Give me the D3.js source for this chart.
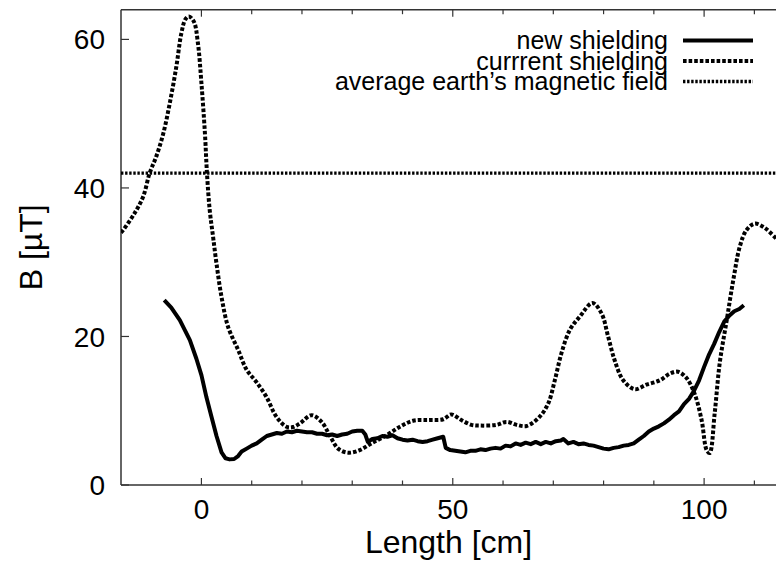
<!DOCTYPE html>
<html>
<head>
<meta charset="utf-8">
<script src="https://cdn.jsdelivr.net/npm/d3@7/dist/d3.min.js"></script>
<style>
  html, body { margin: 0; padding: 0; background: #fff; }
  svg { display: block; }
  text { font-family: "Liberation Sans", Arial, Helvetica, sans-serif; fill: #000; }
</style>
</head>
<body>
<svg id="chart" width="776" height="565"></svg>
<script>
// ---- data ----
const seriesNames = ["new shielding", "currrent shielding", "average earth\u2019s magnetic field"];

const newX = [-7.4,-6,-4.3,-2.3,-1,0,1,2,3,4,4.8,5.6,6.5,7.3,8,9,10,11,12,13,14,15,16,17,18,19,20,21,22,23,24,25,26,27,28,29,30,31,32,32.6,33.1,34,35,36,37,38,39,40,41,42,43,44,45,46,47,48.1,48.6,49.5,50.5,51.5,52.5,53.5,54.5,55.5,56.5,57.5,58.5,59.5,60.5,61.5,62.5,63.5,64.5,65.5,66.5,67.5,68.5,69.5,70.5,71.5,72,73,74,75,76,77,78,79,80,81,82,83,84,85,86,87,88,89,90,91,92,93,94,95,96,97,98,99,100,101,102,103,104,105,106,107,107.9];
const newY = [24.9,23.9,22.2,19.5,17,14.8,11.8,9.2,6.6,4.4,3.6,3.45,3.5,3.9,4.5,4.9,5.3,5.6,6.1,6.6,6.8,7.0,6.9,7.2,7.1,7.3,7.2,7.1,7.1,6.9,6.9,6.7,6.8,6.6,6.8,6.9,7.2,7.3,7.3,6.8,5.8,6.2,6.3,6.6,6.5,6.7,6.3,6.1,6.0,6.1,5.9,5.8,5.9,6.1,6.3,6.5,5.0,4.7,4.6,4.5,4.4,4.6,4.6,4.8,4.7,4.9,5.0,4.9,5.3,5.2,5.6,5.4,5.7,5.5,5.8,5.5,5.8,5.6,5.9,6.0,6.2,5.6,5.8,5.5,5.6,5.4,5.3,5.1,4.9,4.8,5.0,5.1,5.3,5.4,5.6,6.1,6.6,7.2,7.6,7.9,8.3,8.8,9.4,9.9,10.9,11.6,12.7,14.1,15.9,17.6,19.0,20.6,22.0,22.8,23.4,23.7,24.2];

const curX = [-16,-15.6,-13.3,-11.6,-10.3,-9.0,-7.6,-6.3,-5.0,-4.0,-3.2,-2.5,-1.5,-0.7,0,0.7,1.1,1.65,2.3,3.0,4.0,5.3,7.3,9.0,10.9,12.9,14.9,16.9,18.2,19.6,21.9,23.9,25.5,27.2,29.2,31.5,33.8,36.8,39.5,42.1,45.4,48.1,49.7,51.7,53.7,55.4,58.7,60.7,62.7,64.7,67.3,69.0,70.3,71.6,73.3,75.3,77.8,79.6,80.9,82.2,83.9,86.2,88.5,91.2,93.2,94.8,96.5,98.1,99.5,100.5,101.1,102.1,103.1,104.5,105.8,107.1,108.4,110.1,112.1,114.3];
const curY = [34.0,34.3,36.6,38.8,42.0,44.2,47.3,51.4,56.3,60.8,62.7,63.1,62.4,59.5,54.1,47.3,42.0,37.0,33.5,29.8,25.3,21.3,18.2,15.5,13.9,11.9,9.2,7.85,7.8,8.3,9.4,8.5,6.7,4.9,4.35,4.7,5.6,6.7,7.85,8.65,8.75,8.85,9.5,8.75,8.1,8.0,8.1,8.5,8.1,7.95,9.2,11.0,14.1,17.7,20.9,22.7,24.5,23.1,20.0,16.8,14.1,12.9,13.5,14.1,15.0,15.25,14.4,12.3,8.75,4.7,4.3,9.65,16.4,22.2,27.6,32.1,34.3,35.2,34.6,33.2];

const earthField = 42;

const xDomain = [-16, 114.3];
const yDomain = [0, 64];
const xMinorTicks = [0,10,20,30,40,50,60,70,80,90,100,110];
const xLabelTicks = [0, 50, 100];
const yLabelTicks = [0, 20, 40, 60];
const xTitle = "Length [cm]";
const yTitle = "B [\u00B5T]";

// ---- layout ----
const svg = d3.select("#chart");
const L = 121, R = 776, T = 9.7, B = 485;
const x = d3.scaleLinear().domain(xDomain).range([L, R]);
const y = d3.scaleLinear().domain(yDomain).range([B, T]);

const axisColor = "#333";

// frame
svg.append("line").attr("x1", L).attr("x2", R).attr("y1", B).attr("y2", B)
  .attr("stroke", axisColor).attr("stroke-width", 1.5);
svg.append("line").attr("x1", L).attr("x2", R).attr("y1", T).attr("y2", T)
  .attr("stroke", axisColor).attr("stroke-width", 1.5);
svg.append("line").attr("x1", L).attr("x2", L).attr("y1", T).attr("y2", B)
  .attr("stroke", axisColor).attr("stroke-width", 1.5);

// x ticks (bottom and top, inward)
xMinorTicks.forEach(v => {
  const len = xLabelTicks.includes(v) ? 7 : 4.5;
  svg.append("line").attr("x1", x(v)).attr("x2", x(v)).attr("y1", B).attr("y2", B - len)
    .attr("stroke", axisColor).attr("stroke-width", 1.2);
  svg.append("line").attr("x1", x(v)).attr("x2", x(v)).attr("y1", T).attr("y2", T + len)
    .attr("stroke", axisColor).attr("stroke-width", 1.2);
});
xLabelTicks.forEach(v => {
  svg.append("text").attr("x", x(v)).attr("y", 519).attr("text-anchor", "middle")
    .attr("font-size", 28).text(v);
});

// y ticks
yLabelTicks.forEach(v => {
  svg.append("line").attr("x1", L).attr("x2", L + 8).attr("y1", y(v)).attr("y2", y(v))
    .attr("stroke", axisColor).attr("stroke-width", 1.2);
  svg.append("text").attr("x", 105).attr("y", y(v)).attr("dy", "0.36em")
    .attr("text-anchor", "end").attr("font-size", 28).text(v);
});

// titles
svg.append("text").attr("x", (L + R) / 2).attr("y", 553).attr("text-anchor", "middle")
  .attr("font-size", 32).text(xTitle);
svg.append("text").attr("transform", `translate(42,${(T + B) / 2}) rotate(-90)`)
  .attr("text-anchor", "middle").attr("font-size", 32).text(yTitle);

// clip
svg.append("clipPath").attr("id", "clip").append("rect")
  .attr("x", L).attr("y", T).attr("width", R - L).attr("height", B - T);
const g = svg.append("g").attr("clip-path", "url(#clip)");

const curStyle = {w: 4, dash: "3.6,2"};
const earthStyle = {w: 3.4, dash: "2.4,1.7"};
const newStyle = {w: 4, dash: null};

// earth field line
g.append("line").attr("x1", L).attr("x2", R).attr("y1", y(earthField)).attr("y2", y(earthField))
  .attr("stroke", "#000").attr("stroke-width", earthStyle.w).attr("stroke-dasharray", earthStyle.dash);

// current shielding
const curData = curX.map((v, i) => [v, curY[i]]);
g.append("path").datum(curData)
  .attr("d", d3.line().x(d => x(d[0])).y(d => y(d[1])).curve(d3.curveCatmullRom))
  .attr("fill", "none").attr("stroke", "#000").attr("stroke-width", curStyle.w)
  .attr("stroke-dasharray", curStyle.dash);

// new shielding
const newData = newX.map((v, i) => [v, newY[i]]);
g.append("path").datum(newData)
  .attr("d", d3.line().x(d => x(d[0])).y(d => y(d[1])))
  .attr("fill", "none").attr("stroke", "#000").attr("stroke-width", newStyle.w)
  .attr("stroke-linejoin", "round");

// legend
const legY = [40.5, 61, 81.5];
const legStyles = [newStyle, curStyle, earthStyle];
seriesNames.forEach((name, i) => {
  svg.append("text").attr("x", 668).attr("y", legY[i]).attr("dy", "0.35em")
    .attr("text-anchor", "end").attr("font-size", 25).text(name);
  const ln = svg.append("line").attr("x1", 683).attr("x2", 753)
    .attr("y1", legY[i]).attr("y2", legY[i])
    .attr("stroke", "#000").attr("stroke-width", legStyles[i].w);
  if (legStyles[i].dash) ln.attr("stroke-dasharray", legStyles[i].dash);
});
</script>
</body>
</html>
